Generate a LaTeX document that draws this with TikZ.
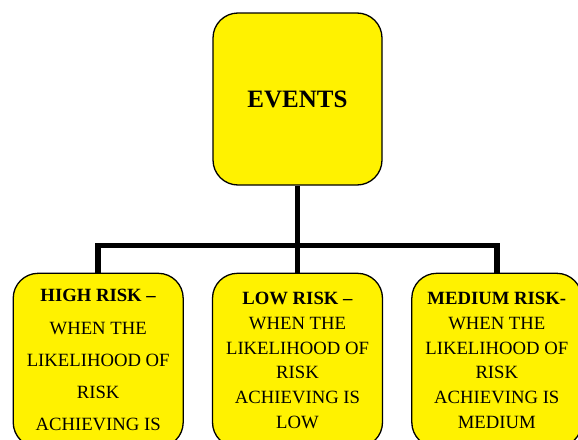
\documentclass[tikz,border=0pt]{standalone}
\usepackage{fontspec}
\setmainfont{Liberation Serif}
\usetikzlibrary{positioning}

\begin{document}
\begin{tikzpicture}
  \tikzstyle{card}=[
      rectangle, rounded corners = 25pt, thick
    , draw = black, line width = 1.3pt, fill = yellow
    , inner sep = 0pt, align = center
    ]
  \tikzstyle{eventbox}=[
      card, minimum width = 169pt, minimum height = 172pt
    , font = \fontsize{25}{30}\selectfont\bfseries
    ]
  \tikzstyle{riskbox}=[
      card, minimum width = 170pt, minimum height = 174pt
    , font = \fontsize{18.7}{24.7}\selectfont
    ]
  \tikzstyle{connect}=[line width = 5.5pt]

  \useasboundingbox (0,0) rectangle (578pt,-439pt);
  \clip (0,0) rectangle (578pt,-439pt);

  \node[eventbox] (events) at (297.5pt,-99pt) {EVENTS};

  \node[riskbox] (low) [below = 87pt of events]
    {\textbf{LOW RISK –}\\WHEN THE\\LIKELIHOOD OF\\RISK\\ACHIEVING IS\\LOW};
  \node[riskbox, font = \fontsize{18.7}{32.3}\selectfont] (high) [left = 28pt of low]
    {\textbf{HIGH RISK –}\\WHEN THE\\LIKELIHOOD OF\\RISK\\ACHIEVING IS};
  \node[riskbox] (medium) [right = 28pt of low]
    {\textbf{MEDIUM RISK-}\\WHEN THE\\LIKELIHOOD OF\\RISK\\ACHIEVING IS\\MEDIUM};

  \coordinate (bus) at ([yshift = -60pt] events.south);

  \draw[connect] (events.south) -- (low.north);
  \draw[connect] (high.north) |- (bus) -| (medium.north);

\end{tikzpicture}
\end{document}
